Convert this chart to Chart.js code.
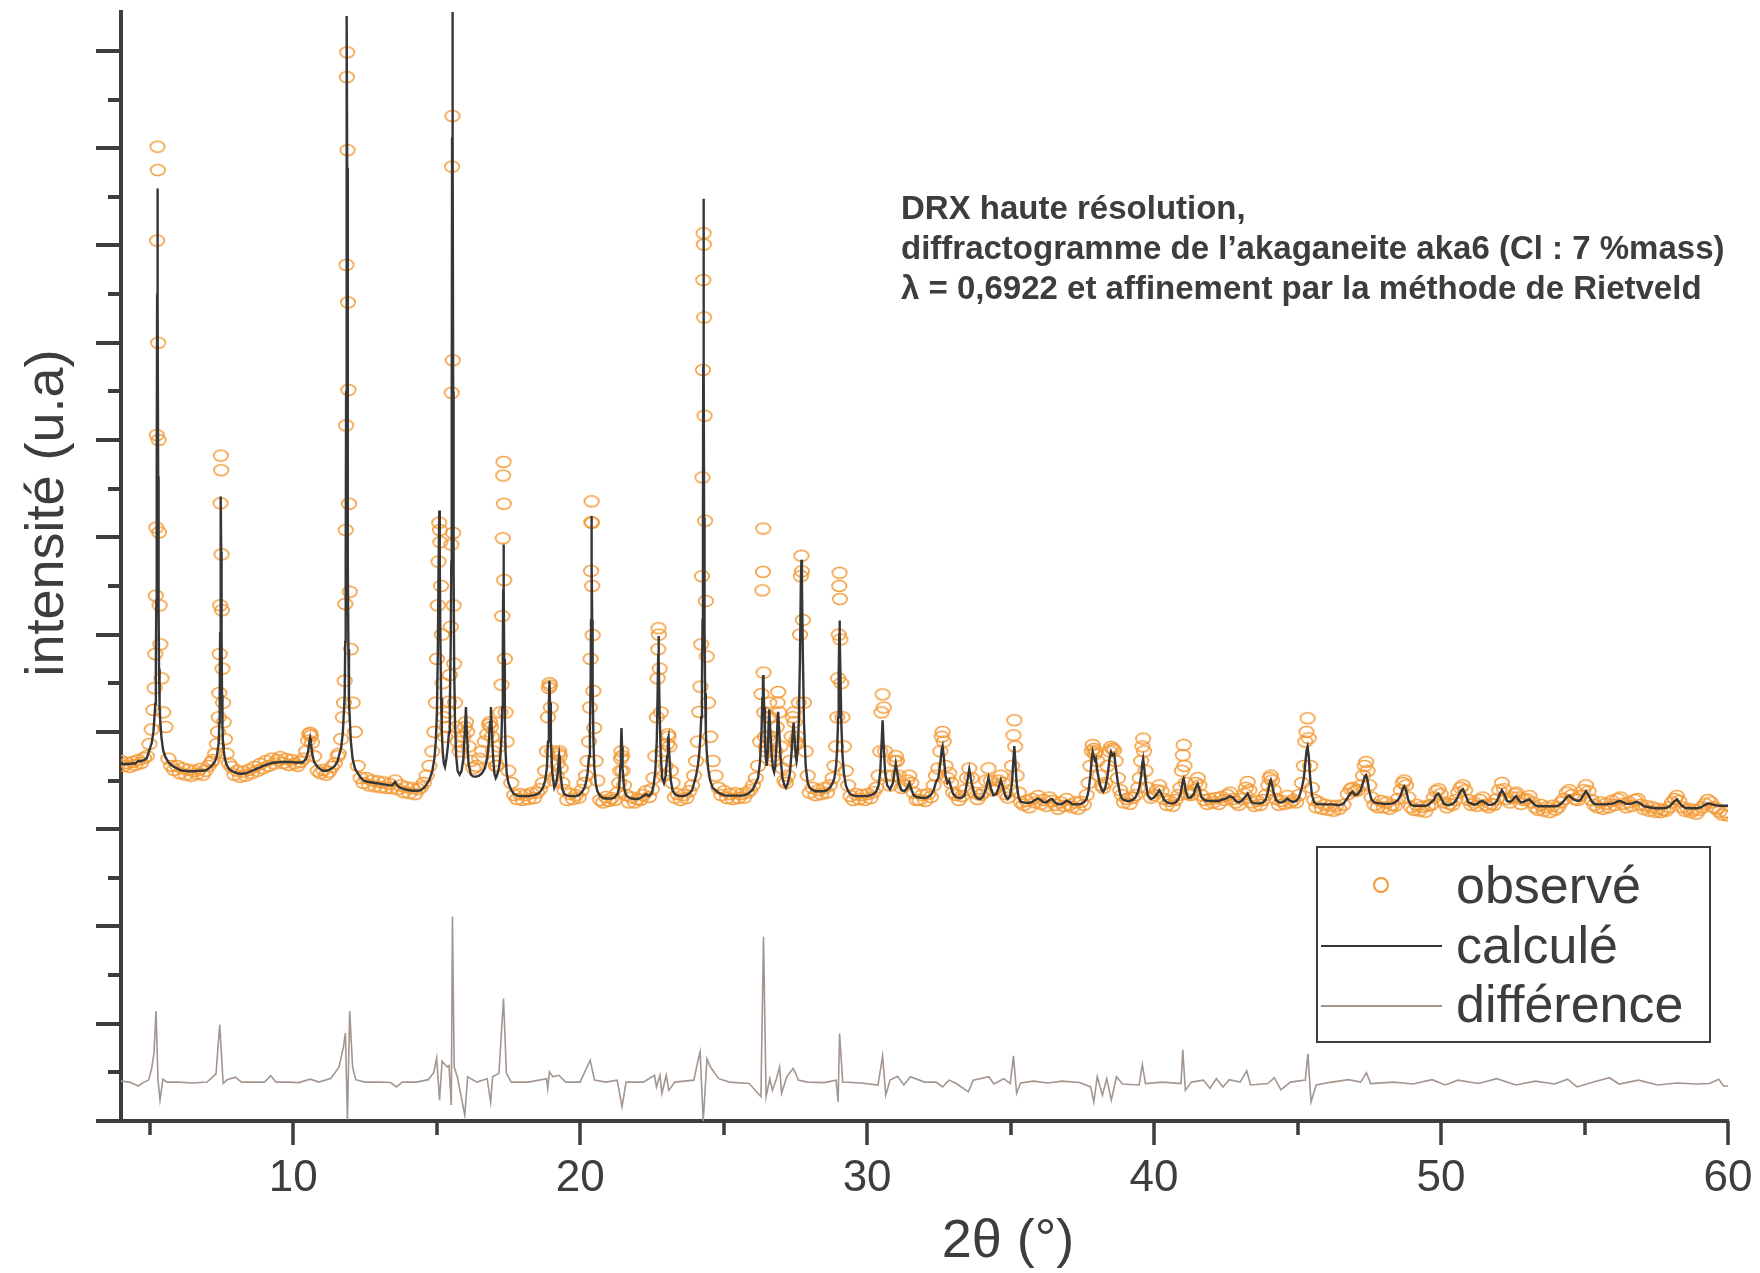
<!DOCTYPE html>
<html><head><meta charset="utf-8">
<script src="https://cdn.jsdelivr.net/npm/chart.js@4.4.1/dist/chart.umd.min.js"></script>
<style>html,body{margin:0;padding:0;background:#fff;}#wrap{width:1760px;height:1273px;}</style>
</head><body><div id="wrap"><canvas id="c" width="1760" height="1273"></canvas></div>
<script>
// 2θ (°) grid shared by observed and calculated patterns
const twoTheta = [
4.0,4.1,4.2,4.3,4.4,4.5,4.6,4.7,4.8,4.9,
4.99,5.07,5.13,5.17,5.195,5.215,5.23,5.245,5.258,5.27,5.282,5.295,5.31,5.325,5.345,5.37,5.41,5.47,5.55,
5.65,5.75,5.85,5.95,6.05,6.15,6.25,6.35,6.45,6.55,6.65,6.75,6.85,6.95,7.05,7.15,
7.2,7.28,7.34,7.38,7.405,7.425,7.44,7.455,7.468,7.48,7.492,7.505,7.52,7.535,7.555,7.58,7.62,7.68,7.76,
7.85,7.95,8.05,8.15,8.25,8.35,8.45,8.55,8.65,8.75,8.85,8.95,9.05,9.15,9.25,9.35,9.45,9.55,9.65,9.75,9.85,9.95,10.05,10.15,10.25,10.35,
10.45,10.52,10.56,10.59,10.62,10.66,10.73,
10.85,10.95,11.05,11.15,11.25,11.35,11.45,11.55,
11.59,11.67,11.73,11.77,11.795,11.815,11.83,11.845,11.858,11.87,11.882,11.895,11.91,11.925,11.945,11.97,12.01,12.07,12.15,
12.25,12.35,12.45,12.55,12.65,12.75,12.85,12.95,13.05,13.15,13.25,13.35,13.45,13.55,13.65,13.75,13.85,13.95,14.05,14.15,14.25,14.35,14.45,
14.55,14.65,14.75,14.85,14.92,14.97,15.01,15.04,15.065,15.09,15.11,15.13,15.155,15.18,15.21,15.25,
15.29,15.34,15.39,15.43,15.46,15.49,15.51,15.525,15.538,15.55,15.562,15.575,15.59,15.61,15.64,15.68,15.73,
15.8,15.87,15.93,15.98,16.02,16.06,16.11,16.19,16.28,16.38,16.48,16.58,16.68,16.76,16.82,16.86,16.89,16.92,16.96,17.01,17.06,
17.1,17.17,17.22,17.26,17.285,17.305,17.318,17.33,17.342,17.355,17.375,17.4,17.44,17.5,
17.6,17.7,17.8,17.9,18.0,18.1,18.2,18.3,18.4,18.5,18.6,18.7,
18.78,18.84,18.88,18.91,18.93,18.95,18.98,19.03,19.1,19.17,19.22,19.25,19.27,19.29,19.32,19.38,19.45,
19.55,19.65,19.75,19.85,19.95,20.05,20.15,
20.2,20.26,20.31,20.34,20.365,20.38,20.39,20.4,20.41,20.42,20.435,20.46,20.49,20.54,20.6,
20.7,20.8,20.9,21.0,21.1,21.2,21.3,
21.36,21.4,21.42,21.44,21.46,21.48,21.53,21.6,
21.7,21.8,21.9,22.0,22.1,22.2,22.3,22.4,22.5,
22.56,22.62,22.67,22.7,22.72,22.73,22.745,22.77,22.81,22.86,22.92,22.98,23.03,23.06,23.08,23.11,23.16,23.22,
23.3,23.4,23.5,23.6,23.7,23.8,23.9,
23.97,24.04,24.1,24.15,24.19,24.22,24.245,24.265,24.28,24.29,24.3,24.31,24.32,24.335,24.355,24.38,24.41,24.46,24.53,24.62,
24.72,24.82,24.92,25.02,25.12,25.22,25.32,25.42,25.52,25.62,25.72,25.82,25.92,26.02,26.12,
26.2,26.27,26.32,26.35,26.37,26.38,26.39,26.41,26.44,26.47,26.5,26.54,26.57,26.59,26.62,26.67,26.72,26.76,26.8,26.85,26.88,26.9,26.93,26.98,27.05,27.12,27.17,27.24,27.31,27.37,27.41,27.44,27.47,27.51,27.54,27.58,27.62,27.66,27.69,27.71,27.73,27.76,27.8,27.86,27.93,
28.0,28.1,28.2,28.3,28.4,28.5,28.6,28.7,28.8,
28.86,28.92,28.96,28.99,29.01,29.03,29.04,29.05,29.07,29.1,29.14,29.19,29.26,29.34,
29.42,29.52,29.62,29.72,29.82,29.92,30.02,30.12,30.22,30.32,
30.4,30.46,30.5,30.54,30.58,30.63,30.7,30.8,30.9,30.96,31.0,31.04,31.1,31.2,31.3,31.4,31.47,31.54,31.62,31.72,
31.82,31.92,32.02,32.12,32.22,32.32,
32.4,32.48,32.55,32.6,32.63,32.67,32.73,32.8,32.86,32.93,33.0,33.1,33.2,33.3,
33.4,33.48,33.56,33.64,33.75,33.85,33.95,34.05,34.15,34.23,34.31,34.4,34.5,34.58,34.66,34.74,34.82,34.9,34.98,35.05,35.1,35.13,35.16,35.21,35.28,35.36,
35.45,35.55,35.65,35.75,35.85,35.95,36.05,36.15,36.25,36.35,36.45,36.55,36.65,36.75,36.85,36.95,37.05,37.15,37.25,37.35,37.45,37.55,37.65,
37.72,37.78,37.83,37.86,37.9,37.94,37.97,38.02,38.1,38.18,38.23,38.3,38.38,38.45,38.5,38.55,38.61,38.66,38.74,38.82,38.88,
38.95,39.05,39.15,39.25,39.35,39.45,
39.5,39.55,39.59,39.62,39.65,39.7,39.78,39.89,40.0,40.1,40.18,40.26,40.35,
40.45,40.55,40.65,40.75,40.85,
40.92,40.97,41.0,41.03,41.06,41.1,41.18,41.28,41.38,41.45,41.52,41.58,41.65,41.75,
41.85,41.95,42.05,42.15,42.25,42.35,42.45,42.55,42.65,42.75,42.85,42.95,43.05,43.15,
43.2,43.26,43.32,43.4,43.5,43.6,43.7,43.8,43.9,43.98,44.03,44.07,44.11,44.17,44.25,44.35,44.45,44.55,44.65,44.75,44.85,44.95,45.05,45.15,
45.22,45.27,45.31,45.35,45.39,45.44,45.5,45.58,
45.65,45.75,45.85,45.95,46.05,46.15,46.25,46.35,46.45,
46.6,46.75,46.85,46.92,47.0,47.1,47.2,47.28,47.34,47.39,47.44,47.5,47.58,47.68,
47.8,47.9,48.0,48.1,48.2,48.3,48.4,48.5,
48.6,48.67,48.72,48.78,48.86,48.95,
49.05,49.15,49.25,49.35,49.45,49.55,49.65,
49.75,49.83,49.91,49.99,50.1,50.2,50.3,50.4,50.5,50.6,50.68,50.76,50.84,50.95,51.05,51.15,51.25,51.35,51.45,51.55,51.65,51.75,51.85,51.95,52.03,52.12,52.2,52.3,52.4,52.5,52.57,52.62,52.68,52.78,52.88,52.98,53.08,53.18,53.28,
53.38,53.48,53.58,53.68,53.78,53.88,53.98,54.08,54.18,
54.28,54.38,54.47,54.56,54.66,54.76,54.86,54.96,55.05,55.14,55.24,55.34,
55.45,55.55,55.65,55.75,55.85,55.95,56.05,56.15,56.25,56.35,56.45,56.55,56.65,56.75,56.85,56.95,57.05,57.15,57.25,57.35,57.45,57.55,57.65,57.75,57.85,57.95,58.05,58.15,58.22,58.3,58.4,58.5,58.6,58.7,58.8,58.9,59.0,59.1,59.2,59.3,59.4,59.5,59.6,59.7,59.8,59.9,60.0
];
const observed = [
7.40,7.30,7.36,7.28,7.38,7.32,7.42,7.36,7.46,7.50,
7.75,8.05,8.45,8.9,9.6,10.8,12.2,14.1,18.1,20.03,19.55,16.0,14.0,12.1,10.6,9.8,9.1,8.4,8.1,
7.45,7.3,7.22,7.3,7.15,7.25,7.12,7.22,7.1,7.2,7.14,7.24,7.12,7.2,7.3,7.38,
7.42,7.55,7.75,8.0,8.3,8.8,9.6,10.6,12.7,13.68,13.38,11.65,10.5,9.3,8.6,8.2,7.85,7.55,7.35,
7.28,7.12,7.2,7.08,7.18,7.1,7.22,7.15,7.28,7.2,7.34,7.25,7.4,7.3,7.45,7.35,7.42,7.48,7.36,7.44,7.32,7.42,7.35,7.3,7.38,7.45,
7.6,7.82,7.95,7.98,7.92,7.78,7.5,
7.2,7.15,7.22,7.12,7.18,7.28,7.35,7.5,
7.55,7.85,8.3,8.6,9.05,10.63,12.15,14.3,17.6,21.46,21.97,19.96,16.83,15.03,12.69,10.88,9.7,8.6,8.0,
7.3,7.05,6.95,7.05,6.9,7.0,6.88,6.98,6.86,6.96,6.85,6.93,6.84,7.0,6.82,6.9,6.76,6.86,6.74,6.84,6.72,6.82,6.86,
6.95,7.1,7.3,7.6,8.0,8.6,9.5,10.6,11.5,12.3,12.15,11.9,11.0,10.0,9.0,8.3,
7.9,8.1,8.4,8.62,9.17,10.16,11.85,14.97,19.62,20.66,15.64,12.09,10.6,9.4,8.6,8.1,7.8,
7.6,7.7,7.9,8.1,8.2,8.0,7.7,7.4,7.25,7.3,7.45,7.6,7.8,7.95,8.15,8.2,8.1,7.9,7.6,7.4,7.3,
7.3,7.7,8.4,8.97,10.38,11.98,13.27,13.55,12.69,11.12,9.5,8.4,7.8,7.2,
6.95,6.7,6.62,6.72,6.6,6.7,6.62,6.74,6.64,6.75,6.82,6.95,
7.2,7.6,8.3,8.9,9.0,8.95,8.5,7.6,7.0,7.1,7.35,7.55,7.6,7.5,7.25,6.95,6.8,
6.6,6.72,6.62,6.7,6.65,6.8,6.95,
7.1,7.4,7.8,8.5,9.5,11.31,12.31,12.74,12.3,11.0,9.99,8.84,8.08,7.4,7.0,
6.6,6.55,6.66,6.58,6.64,6.6,6.75,
6.95,7.2,7.45,7.6,7.5,7.2,6.9,6.7,
6.55,6.65,6.55,6.62,6.6,6.7,6.78,6.66,6.82,
7.05,7.5,8.3,9.1,9.7,10.13,10.0,9.3,8.4,7.6,7.1,7.3,7.75,7.95,7.9,7.7,7.2,6.95,
6.65,6.72,6.6,6.7,6.64,6.78,6.9,
7.1,7.4,7.8,8.41,8.93,9.8,11.2,13.23,15.44,17.29,18.25,18.02,16.52,14.5,12.34,10.69,9.55,8.6,7.9,7.4,
7.1,6.85,6.7,6.78,6.64,6.72,6.62,6.74,6.64,6.72,6.65,6.75,6.8,6.9,7.05,
7.3,7.8,8.78,10.91,11.29,12.18,9.22,8.4,7.9,7.7,7.6,7.9,8.3,8.6,8.3,7.8,7.5,7.4,7.6,8.1,8.6,8.82,8.4,7.7,7.25,7.0,6.95,7.1,7.4,7.9,8.3,8.4,8.2,7.8,7.75,7.9,8.6,10.0,11.2,11.62,11.3,10.3,8.6,7.6,7.1,
6.75,6.85,6.7,6.8,6.72,6.84,6.75,6.9,7.05,
7.3,7.7,8.3,9.1,10.0,11.0,11.27,10.73,9.9,9.0,8.3,7.7,7.2,6.9,
6.68,6.6,6.72,6.62,6.7,6.6,6.72,6.64,6.76,6.85,
7.1,7.6,8.4,8.77,8.5,7.6,7.1,6.9,7.1,7.4,7.5,7.4,7.1,6.85,6.9,7.0,7.1,6.95,6.75,6.6,
6.6,6.7,6.58,6.72,6.66,6.9,
7.1,7.25,7.6,7.9,8.0,7.8,7.3,7.05,7.15,6.95,6.75,6.7,6.6,6.68,
6.8,7.05,7.25,7.05,6.75,6.62,6.7,6.75,7.0,7.25,7.0,6.8,6.85,7.0,7.1,6.95,6.72,6.65,6.8,7.3,7.93,8.24,7.7,7.1,6.75,6.55,
6.5,6.58,6.45,6.62,6.55,6.68,6.52,6.6,6.48,6.65,6.58,6.5,6.42,6.55,6.48,6.62,6.5,6.45,6.55,6.42,6.56,6.5,6.7,
6.95,7.3,7.6,7.73,7.65,7.55,7.6,7.4,7.1,6.9,6.85,6.95,7.3,7.6,7.69,7.65,7.62,7.4,7.05,6.8,6.7,
6.55,6.62,6.52,6.64,6.7,6.85,
7.05,7.4,7.7,7.86,7.6,7.2,6.85,6.65,6.7,6.8,6.9,6.78,6.62,
6.5,6.58,6.48,6.6,6.7,
6.85,7.2,7.52,7.73,7.3,6.95,6.72,6.7,6.8,6.95,7.05,6.9,6.7,6.6,
6.52,6.62,6.55,6.64,6.52,6.66,6.6,6.7,6.75,6.62,6.55,6.5,6.62,6.72,
6.85,6.97,6.8,6.55,6.48,6.58,6.5,6.6,6.7,6.9,7.05,7.1,7.0,6.8,6.62,6.5,6.58,6.52,6.68,6.55,6.6,6.55,6.7,6.95,
7.3,7.8,8.0,8.28,7.87,7.3,6.85,6.6,
6.45,6.55,6.42,6.5,6.4,6.48,6.38,6.48,6.42,
6.5,6.72,6.82,6.85,6.78,6.8,6.9,7.1,7.3,7.38,7.2,6.9,6.65,6.5,
6.45,6.58,6.45,6.55,6.42,6.5,6.48,6.62,
6.8,6.95,7.0,6.9,6.65,6.45,
6.4,6.5,6.38,6.46,6.36,6.48,6.5,
6.65,6.78,6.82,6.72,6.55,6.45,6.52,6.5,6.6,6.75,6.85,6.9,6.8,6.6,6.5,6.55,6.48,6.6,6.65,6.5,6.45,6.52,6.5,6.62,6.8,6.95,6.82,6.62,6.55,6.65,6.72,6.75,6.65,6.52,6.6,6.62,6.68,6.55,6.45,
6.4,6.5,6.38,6.45,6.35,6.48,6.4,6.45,6.55,
6.62,6.75,6.8,6.7,6.62,6.6,6.68,6.8,6.9,6.78,6.6,6.5,
6.45,6.55,6.42,6.52,6.45,6.58,6.5,6.62,6.65,6.52,6.45,6.55,6.48,6.6,6.62,6.5,6.42,6.48,6.38,6.45,6.36,6.42,6.35,6.4,6.38,6.45,6.55,6.62,6.68,6.58,6.45,6.38,6.42,6.35,6.4,6.32,6.4,6.45,6.52,6.6,6.55,6.45,6.42,6.36,6.3,6.35,6.28
];
const calculated = [
7.34,7.34,7.34,7.34,7.35,7.35,7.40,7.40,7.42,7.46,
7.63,7.77,8.0,8.34,8.58,9.4,10.7,13.3,16.84,19.17,16.8,13.25,10.6,9.3,8.5,8.2,7.88,7.62,7.48,
7.38,7.32,7.28,7.25,7.22,7.2,7.2,7.19,7.19,7.19,7.2,7.2,7.2,7.21,7.24,7.3,
7.33,7.4,7.5,7.67,7.78,8.18,8.79,10.03,11.72,12.84,11.7,10.0,8.76,8.14,7.74,7.62,7.45,7.33,7.24,
7.2,7.17,7.15,7.14,7.14,7.15,7.17,7.2,7.22,7.25,7.27,7.3,7.32,7.34,7.36,7.37,7.37,7.38,7.38,7.38,7.38,7.38,7.37,7.37,7.37,7.38,
7.45,7.6,7.78,7.87,7.76,7.55,7.38,
7.28,7.23,7.2,7.2,7.22,7.25,7.3,7.4,
7.5,7.67,7.98,8.45,8.76,9.85,11.56,14.99,19.66,22.72,19.6,14.9,11.45,9.7,8.6,8.3,7.8,7.45,7.25,
7.15,7.06,7.0,6.98,6.97,6.96,6.95,6.94,6.93,6.92,6.91,6.9,6.9,6.97,6.88,6.85,6.83,6.81,6.8,6.79,6.79,6.79,6.8,
6.85,6.92,7.02,7.2,7.45,7.8,8.4,9.6,11.3,12.55,11.4,9.9,8.7,8.0,7.6,7.35,
7.28,7.45,7.7,8.0,8.5,9.8,11.5,15.0,20.2,23.5,20.2,15.0,11.4,9.3,8.2,7.5,7.2,
7.12,7.2,7.45,8.0,8.51,7.9,7.35,7.12,7.08,7.08,7.1,7.15,7.25,7.45,7.8,8.2,8.51,8.1,7.55,7.15,7.05,
7.1,7.25,7.5,7.9,8.5,9.6,10.9,11.85,10.9,9.5,8.3,7.6,7.15,6.95,
6.8,6.72,6.69,6.68,6.68,6.68,6.68,6.69,6.7,6.72,6.76,6.85,
7.0,7.25,7.8,8.6,9.05,8.6,7.8,7.15,6.85,6.95,7.15,7.4,7.51,7.4,7.1,6.82,6.72,
6.69,6.68,6.68,6.68,6.7,6.75,6.85,
6.95,7.15,7.5,8.0,9.0,10.3,11.5,12.44,11.5,10.3,9.0,7.9,7.3,6.95,6.78,
6.68,6.64,6.63,6.63,6.63,6.65,6.72,
6.85,7.3,7.7,8.08,7.7,7.25,6.85,6.7,
6.65,6.63,6.62,6.62,6.64,6.68,6.72,6.68,6.75,
6.9,7.2,7.8,8.8,9.6,9.97,9.5,8.4,7.5,7.05,6.95,7.1,7.5,7.85,7.9,7.5,7.0,6.8,
6.72,6.69,6.68,6.68,6.7,6.73,6.8,
6.95,7.1,7.3,7.55,7.9,8.3,9.0,10.3,12.5,15.5,18.96,15.5,12.4,10.1,8.8,8.0,7.6,7.25,7.0,6.85,
6.8,6.75,6.72,6.7,6.69,6.69,6.69,6.69,6.69,6.69,6.7,6.72,6.76,6.82,6.95,
7.05,7.4,8.0,8.7,9.05,9.17,9.0,8.5,7.8,7.45,7.3,7.6,8.2,8.46,8.1,7.55,7.25,7.17,7.3,7.8,8.25,8.41,8.1,7.5,7.05,6.9,6.85,6.95,7.15,7.6,8.0,8.19,7.9,7.5,7.4,7.6,8.2,9.5,11.0,11.54,11.0,9.6,8.2,7.3,6.95,
6.85,6.8,6.78,6.78,6.78,6.78,6.8,6.85,6.95,
7.05,7.3,7.7,8.3,9.2,10.0,10.29,10.0,9.2,8.2,7.55,7.15,6.9,6.78,
6.72,6.69,6.68,6.68,6.68,6.68,6.68,6.7,6.72,6.78,
6.9,7.2,7.7,8.24,7.7,7.15,6.9,6.82,6.95,7.2,7.35,7.2,6.95,6.8,6.78,6.85,6.95,6.82,6.7,6.66,
6.65,6.64,6.64,6.66,6.7,6.8,
6.97,7.05,7.35,7.65,7.71,7.5,7.1,6.95,7.0,6.85,6.72,6.66,6.64,6.65,
6.7,6.95,7.23,6.95,6.7,6.63,6.62,6.68,6.85,7.06,6.85,6.7,6.72,6.85,7.01,6.85,6.68,6.62,6.68,6.95,7.45,7.71,7.45,6.95,6.65,6.56,
6.55,6.54,6.54,6.56,6.6,6.63,6.6,6.55,6.55,6.6,6.62,6.55,6.51,6.51,6.54,6.58,6.56,6.51,6.51,6.51,6.52,6.55,6.62,
6.8,7.1,7.45,7.59,7.5,7.42,7.45,7.2,6.95,6.8,6.77,6.85,7.1,7.45,7.59,7.52,7.55,7.3,6.95,6.72,6.63,
6.6,6.58,6.58,6.6,6.65,6.78,
6.9,7.1,7.35,7.45,7.3,7.0,6.7,6.62,6.65,6.72,6.8,6.72,6.6,
6.55,6.53,6.53,6.55,6.62,
6.72,6.88,7.0,7.04,6.95,6.78,6.65,6.65,6.72,6.85,6.93,6.82,6.66,6.6,
6.58,6.58,6.58,6.58,6.58,6.6,6.62,6.64,6.68,6.65,6.58,6.55,6.58,6.65,
6.68,6.73,6.66,6.55,6.53,6.53,6.53,6.55,6.62,6.8,6.95,7.01,6.92,6.75,6.6,6.55,6.55,6.58,6.63,6.58,6.56,6.58,6.65,6.85,
7.05,7.35,7.6,7.69,7.5,7.05,6.7,6.55,
6.52,6.51,6.51,6.51,6.51,6.51,6.51,6.5,6.49,
6.52,6.65,6.74,6.77,6.7,6.72,6.8,6.95,7.08,7.11,7.0,6.78,6.6,6.55,
6.53,6.53,6.52,6.52,6.52,6.53,6.55,6.6,
6.7,6.84,6.88,6.8,6.6,6.5,
6.48,6.48,6.48,6.48,6.48,6.5,6.55,
6.6,6.7,6.73,6.65,6.52,6.5,6.5,6.52,6.57,6.68,6.78,6.82,6.72,6.55,6.53,6.5,6.52,6.56,6.58,6.54,6.5,6.5,6.52,6.58,6.7,6.8,6.72,6.58,6.56,6.6,6.66,6.68,6.62,6.55,6.56,6.59,6.61,6.55,6.49,
6.47,6.47,6.47,6.47,6.47,6.47,6.47,6.48,6.52,
6.58,6.66,6.69,6.64,6.6,6.58,6.6,6.7,6.78,6.7,6.58,6.52,
6.51,6.51,6.51,6.51,6.52,6.52,6.54,6.57,6.58,6.55,6.52,6.52,6.53,6.55,6.56,6.52,6.48,6.46,6.45,6.44,6.43,6.43,6.43,6.43,6.44,6.46,6.52,6.58,6.61,6.55,6.48,6.44,6.43,6.43,6.43,6.43,6.44,6.46,6.5,6.53,6.52,6.5,6.49,6.48,6.48,6.48,6.48
];
// difference curve (own 2θ grid)
const diffTheta = [
4.0,4.3,4.6,4.8,4.96,5.07,5.15,5.22,5.29,5.36,5.46,5.6,6.0,6.5,7.0,7.31,7.44,7.56,7.7,7.99,
8.2,8.6,9.0,9.22,9.4,9.8,10.2,10.59,10.9,11.32,11.6,11.75,11.82,11.89,11.97,12.07,12.18,12.5,13.0,13.4,
13.6,13.8,14.3,14.71,14.9,15.0,15.1,15.19,15.36,15.43,15.51,15.55,15.61,15.72,15.98,16.08,16.4,16.76,16.88,16.95,
17.17,17.33,17.43,17.6,18.2,18.83,18.87,18.93,19.05,19.26,19.5,20.0,20.35,20.5,20.9,21.29,21.46,21.6,22.2,22.59,
22.66,22.78,22.85,23.0,23.09,23.3,23.96,24.11,24.18,24.29,24.42,24.54,24.83,25.2,25.89,26.3,26.39,26.48,26.61,26.7,
26.84,26.95,27.02,27.2,27.42,27.51,27.6,27.91,28.5,28.92,28.99,29.04,29.15,29.8,30.38,30.54,30.65,30.8,31.06,31.28,
31.51,32.0,32.4,32.63,32.85,33.08,33.53,33.7,34.24,34.42,34.76,34.99,35.1,35.21,35.35,35.8,36.3,36.8,37.4,37.79,
37.9,38.02,38.2,38.35,38.51,38.69,38.9,39.48,39.59,39.7,40.3,40.94,41.0,41.09,41.3,41.72,41.95,42.17,42.4,42.62,
43.0,43.23,43.36,43.97,44.19,44.42,44.75,45.27,45.36,45.47,45.65,46.2,46.77,47.2,47.4,47.55,48.34,49.02,49.69,50.14,
50.59,51.3,51.94,52.61,53.28,53.96,54.41,54.74,55.31,55.87,56.2,56.88,57.55,58.22,58.9,59.35,59.68,59.84,60.0
];
const difference = [
0.82,0.8,0.72,0.8,0.84,1.08,1.4,2.26,0.84,0.43,0.86,0.8,0.8,0.78,0.8,0.97,1.98,0.77,0.85,0.9,
0.8,0.8,0.8,0.93,0.8,0.8,0.79,0.86,0.8,0.88,1.11,1.52,1.81,0.03,2.26,1.11,0.85,0.8,0.8,0.79,
0.7,0.8,0.8,0.85,1.0,1.3,0.43,1.23,1.11,1.14,0.33,4.2,1.11,0.91,0.12,0.91,0.8,0.87,0.39,0.91,
0.98,2.52,0.98,0.8,0.8,0.87,0.67,1.01,0.91,0.94,0.8,0.8,1.25,0.84,0.8,0.84,0.29,0.8,0.8,0.94,
0.7,0.94,0.57,0.94,0.63,0.8,0.84,1.25,1.42,0.0,1.28,1.11,0.87,0.8,0.77,0.5,3.79,0.5,0.87,0.63,
0.87,1.11,0.57,0.91,1.08,0.98,0.84,0.8,0.79,0.84,0.39,1.8,0.8,0.78,0.74,1.34,0.53,0.84,0.92,0.74,
0.91,0.8,0.8,0.7,0.84,0.78,0.6,0.84,0.91,0.76,0.87,0.77,1.34,0.57,0.78,0.82,0.78,0.82,0.79,0.7,
0.39,0.91,0.53,0.87,0.43,0.91,0.76,0.74,1.16,0.77,0.8,0.77,1.47,0.63,0.8,0.84,0.67,0.87,0.7,0.85,
0.8,1.03,0.74,0.77,0.89,0.64,0.8,0.84,1.38,0.39,0.74,0.8,0.85,0.8,0.99,0.77,0.8,0.76,0.85,0.74,
0.84,0.77,0.87,0.74,0.82,0.76,0.86,0.7,0.8,0.89,0.76,0.84,0.74,0.78,0.76,0.77,0.86,0.72,0.72
];
const xMajorTicks = [10, 20, 30, 40, 50, 60];
const xMinorTicks = [5, 15, 25, 35, 45, 55];
const yTickValues = [0,1,2,3,4,5,6,7,8,9,10,11,12,13,14,15,16,17,18,19,20,21,22];
const seriesNames = ['observé', 'calculé', 'différence'];
const annotationLines = ['DRX haute résolution,', 'diffractogramme de l’akaganeite aka6 (Cl : 7 %mass)', 'λ = 0,6922 et affinement par la méthode de Rietveld'];
const xTitle = '2θ (°)';
const yTitle = 'intensité (u.a)';

if (twoTheta.length !== observed.length || twoTheta.length !== calculated.length) {
  throw new Error('length mismatch ' + twoTheta.length + ' ' + observed.length + ' ' + calculated.length);
}
if (diffTheta.length !== difference.length) throw new Error('diff mismatch ' + diffTheta.length + ' ' + difference.length);

const FONT = '"Liberation Sans", Arial, sans-serif';
const INK = '#3d3d3d';
const ORANGE = '#f39a36';
const CALC = '#363636';
const DIFF = '#a3968f';

// open ellipse marker used by the observed points
const marker = document.createElement('canvas');
marker.width = 18; marker.height = 14;
(function () {
  const m = marker.getContext('2d');
  m.strokeStyle = ORANGE; m.lineWidth = 1.5;
  m.beginPath(); m.ellipse(9, 7, 7.2, 5.4, 0, 0, Math.PI * 2); m.stroke();
})();

const pts = (xs, ys) => xs.map((x, i) => ({ x: x, y: ys[i] }));

const decor = {
  id: 'decor',
  afterDraw(chart) {
    const { ctx, chartArea: a, scales: { x, y } } = chart;
    ctx.save();
    ctx.strokeStyle = INK; ctx.lineWidth = 4; ctx.lineCap = 'butt';
    yTickValues.forEach(v => {
      const py = Math.round(y.getPixelForValue(v));
      const len = v % 2 === 0 ? 25 : 13;
      ctx.beginPath(); ctx.moveTo(a.left - len, py); ctx.lineTo(a.left, py); ctx.stroke();
    });
    ctx.lineWidth = 3.5;
    xMajorTicks.concat(xMinorTicks).forEach(v => {
      const px = Math.round(x.getPixelForValue(v));
      const len = xMajorTicks.includes(v) ? 24 : 14;
      ctx.beginPath(); ctx.moveTo(px, a.bottom); ctx.lineTo(px, a.bottom + len); ctx.stroke();
    });
    ctx.fillStyle = INK;
    ctx.font = '54px ' + FONT;
    ctx.textAlign = 'center'; ctx.textBaseline = 'alphabetic';
    ctx.fillText(xTitle, 1008, 1257);
    ctx.save(); ctx.translate(63, 513); ctx.rotate(-Math.PI / 2); ctx.fillText(yTitle, 0, 0); ctx.restore();
    ctx.font = 'bold 33px ' + FONT; ctx.textAlign = 'left';
    annotationLines.forEach((t, i) => ctx.fillText(t, 901, 219 + i * 40));
    // legend
    ctx.lineWidth = 2; ctx.strokeStyle = INK;
    ctx.strokeRect(1317, 847, 393, 195);
    ctx.strokeStyle = ORANGE; ctx.lineWidth = 2;
    ctx.beginPath(); ctx.arc(1381, 885, 7, 0, Math.PI * 2); ctx.stroke();
    ctx.strokeStyle = CALC; ctx.lineWidth = 2;
    ctx.beginPath(); ctx.moveTo(1321, 946); ctx.lineTo(1442, 946); ctx.stroke();
    ctx.strokeStyle = DIFF;
    ctx.beginPath(); ctx.moveTo(1321, 1006); ctx.lineTo(1442, 1006); ctx.stroke();
    ctx.fillStyle = INK; ctx.font = '52px ' + FONT;
    ctx.fillText(seriesNames[0], 1456, 903);
    ctx.fillText(seriesNames[1], 1456, 963);
    ctx.fillText(seriesNames[2], 1456, 1022);
    ctx.restore();
  }
};

new Chart(document.getElementById('c'), {
  type: 'line',
  data: {
    datasets: [
      { label: seriesNames[1], data: pts(twoTheta, calculated), borderColor: CALC, borderWidth: 2.4, pointRadius: 0, tension: 0, order: 0 },
      { label: seriesNames[0], data: pts(twoTheta, observed), showLine: false, pointStyle: marker, pointRadius: 7, borderColor: ORANGE, backgroundColor: 'transparent', order: 1 },
      { label: seriesNames[2], data: pts(diffTheta, difference), borderColor: DIFF, borderWidth: 1.6, pointRadius: 0, tension: 0, order: 2 }
    ]
  },
  options: {
    responsive: false, animation: false, devicePixelRatio: 1,
    layout: { padding: { left: 0, right: 32, top: 12, bottom: 0 } },
    plugins: { legend: { display: false }, tooltip: { enabled: false } },
    scales: {
      x: {
        type: 'linear', min: 4, max: 60,
        afterBuildTicks: s => { s.ticks = xMajorTicks.map(v => ({ value: v })); },
        ticks: { autoSkip: false, maxRotation: 0, padding: 0, color: INK, font: { family: FONT, size: 44 } },
        grid: { display: false, drawTicks: true, tickLength: 31 },
        border: { display: true, color: INK, width: 4 },
        afterFit: s => { s.height = 152; }
      },
      y: {
        type: 'linear', min: 0, max: 22.8,
        afterBuildTicks: s => { s.ticks = yTickValues.map(v => ({ value: v })); },
        ticks: { display: false },
        grid: { display: false, drawTicks: false },
        border: { display: true, color: INK, width: 4 },
        afterFit: s => { s.width = 121; }
      }
    }
  },
  plugins: [decor]
});
</script></body></html>
